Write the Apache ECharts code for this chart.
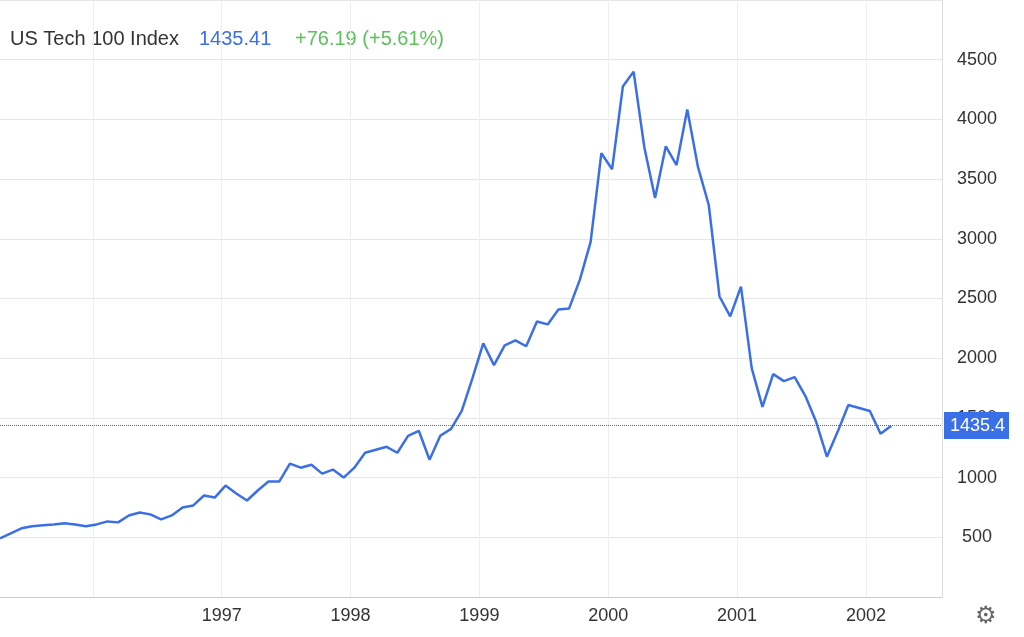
<!DOCTYPE html>
<html><head><meta charset="utf-8">
<script src="https://cdn.jsdelivr.net/npm/echarts@6/dist/echarts.min.js"></script>
<style>html,body{margin:0;padding:0;background:#fff}#c{width:1024px;height:637px}</style>
</head><body><div id="c"></div>
<script>
const startYear = 1995.28;
const values = [492,533,575,592,600,608,617,608,592,608,633,625,683,708,692,650,683,750,767,850,833,933,867,808,892,967,967,1117,1083,1108,1033,1067,1000,1083,1208,1233,1258,1208,1350,1392,1150,1350,1408,1558,1833,2125,1942,2108,2150,2100,2308,2283,2408,2417,2658,2975,3717,3583,4275,4400,3767,3342,3775,3617,4083,3600,3283,2517,2350,2600,1917,1592,1867,1808,1842,1683,1467,1175,1383,1608,1583,1558,1367,1435];
const yTicks = [500,1000,1500,2000,2500,3000,3500,4000,4500];
const xLabelYears = [1997,1998,1999,2000,2001,2002];
const xGridYears = [1996,1997,1998,1999,2000,2001,2002];
const lastValue = 1435.41;
const data = values.map((v,i)=>[startYear + i/12, v]);
const F = 'Helvetica, Arial, "Liberation Sans", sans-serif';
const chart = echarts.init(document.getElementById('c'));
chart.setOption({
  animation:false,
  grid:{left:0,right:82,top:-5,bottom:40},
  xAxis:{type:'value',min:startYear,max:2002.59,
    axisLine:{show:true,lineStyle:{color:'#ccc'}},
    axisTick:{show:false,customValues:xGridYears},
    splitLine:{show:true,lineStyle:{color:'#eee'}},
    axisLabel:{color:'#333',fontSize:18,fontFamily:F,margin:10,customValues:xLabelYears,
      formatter:v=>String(Math.round(v))}},
  yAxis:{type:'value',position:'right',min:0,max:5000,interval:500,
    axisLine:{show:true,lineStyle:{color:'#ddd'}},axisTick:{show:false},
    splitLine:{show:true,lineStyle:{color:'#e6e6e6'}},
    axisLabel:{color:'#333',fontSize:18,fontFamily:F,margin:35,align:'center',
      formatter:v=>yTicks.includes(v)?String(v):''}},
  series:[{type:'line',data:data,symbol:'none',lineStyle:{color:'#3b6fe8',width:2.5},
    markLine:{symbol:'none',silent:true,
      lineStyle:{color:'#3b6fe8',type:'dotted',width:1},
      label:{position:'end',formatter:'1435.4',color:'#fff',backgroundColor:'#3b6fe8',
        fontSize:18,fontFamily:F,padding:[5,4,4,6],distance:2},
      data:[{yAxis:lastValue}]}}],
  graphic:[
    {type:'text',left:10,top:29,style:{text:'US Tech 100 Index',fontSize:20,fill:'#333',fontFamily:F}},
    {type:'text',left:199,top:29,style:{text:String(lastValue),fontSize:20,fill:'#3b6fe8',fontFamily:F}},
    {type:'text',left:295,top:29,style:{text:'+76.19 (+5.61%)',fontSize:20,fill:'#5cc15a',fontFamily:F}},
    {type:'text',left:975,top:604,style:{text:'⚙',fontSize:24,fill:'#666'}}
  ]
});
</script></body></html>
